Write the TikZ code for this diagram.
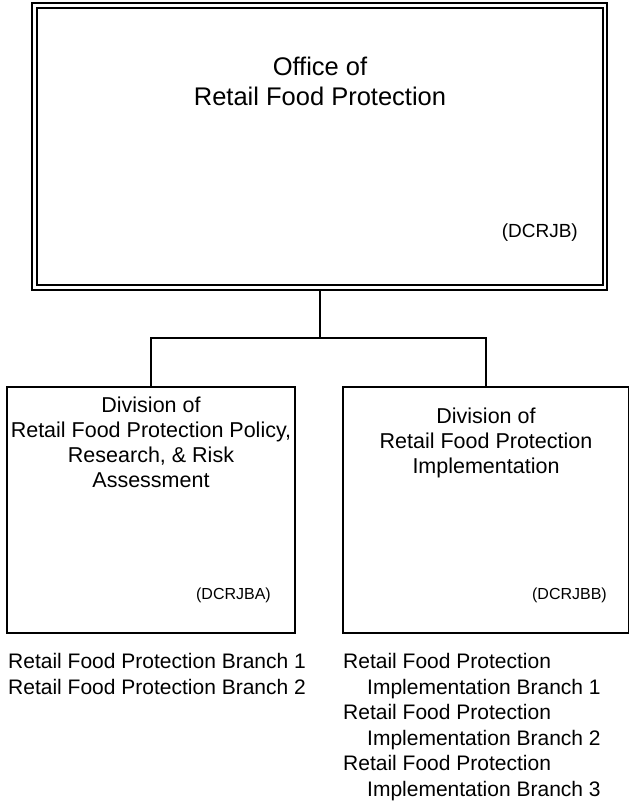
\documentclass[tikz,border=0pt]{standalone}
\usepackage{fontspec}
\setmainfont{Liberation Sans}
\usetikzlibrary{positioning,calc}

\begin{document}
\begin{tikzpicture}[x=1pt, y=-1pt, every node/.style={inner sep=0pt},
    officebox/.style={draw, double, double distance=2.5pt, line width=2pt, outer sep=3.25pt,
                      minimum width=570.5pt, minimum height=282pt},
    divbox/.style={draw, line width=1.8pt, minimum height=246pt},
    link/.style={line width=1.8pt},
    bigtext/.style={align=center, font=\fontsize{25.5}{30}\selectfont},
    divtext/.style={align=center, font=\fontsize{21.5}{25}\selectfont},
    listtext/.style={align=left, font=\fontsize{21}{25.5}\selectfont}]
    \useasboundingbox (0,0) rectangle (630,801);

    \node[officebox]                      (office) at (319.75,146.5) {};
    \node[divbox, minimum width=288pt]    (policy) at (151,510)     {};
    \node[divbox, minimum width=285.5pt]  (impl)   at (485.75,510)  {};

    \node[bigtext, anchor=base]           (officetitle) at (320,105) {Office of\\Retail Food Protection};
    \node[anchor=base east, font=\fontsize{19}{22}\selectfont] (officecode) at (578,237) {(DCRJB)};
    \node[divtext, anchor=base]           (policytitle) at (151,487) {Division of\\Retail Food Protection Policy,\\Research, \& Risk\\Assessment};
    \node[divtext, anchor=base]           (impltitle)   at (486,473) {Division of\\Retail Food Protection\\Implementation};
    \node[anchor=base east, font=\fontsize{16}{19}\selectfont] (policycode) at (271,599) {(DCRJBA)};
    \node[anchor=base east, font=\fontsize{16}{19}\selectfont] (implcode)   at (607,599) {(DCRJBB)};

    \node[listtext, anchor=base west]     (policybranches) at (8,694)
        {Retail Food Protection Branch 1\\Retail Food Protection Branch 2};
    \node[listtext, anchor=base west]     (implbranches)   at (343,796)
        {Retail Food Protection\\\hspace*{24pt}Implementation Branch 1\\
         Retail Food Protection\\\hspace*{24pt}Implementation Branch 2\\
         Retail Food Protection\\\hspace*{24pt}Implementation Branch 3};

    \draw[link] (office.south) -- ++(0,47.5) coordinate (fork);
    \draw[link] (fork) -| (policy.north);
    \draw[link] (fork) -| (impl.north);
\end{tikzpicture}
\end{document}
